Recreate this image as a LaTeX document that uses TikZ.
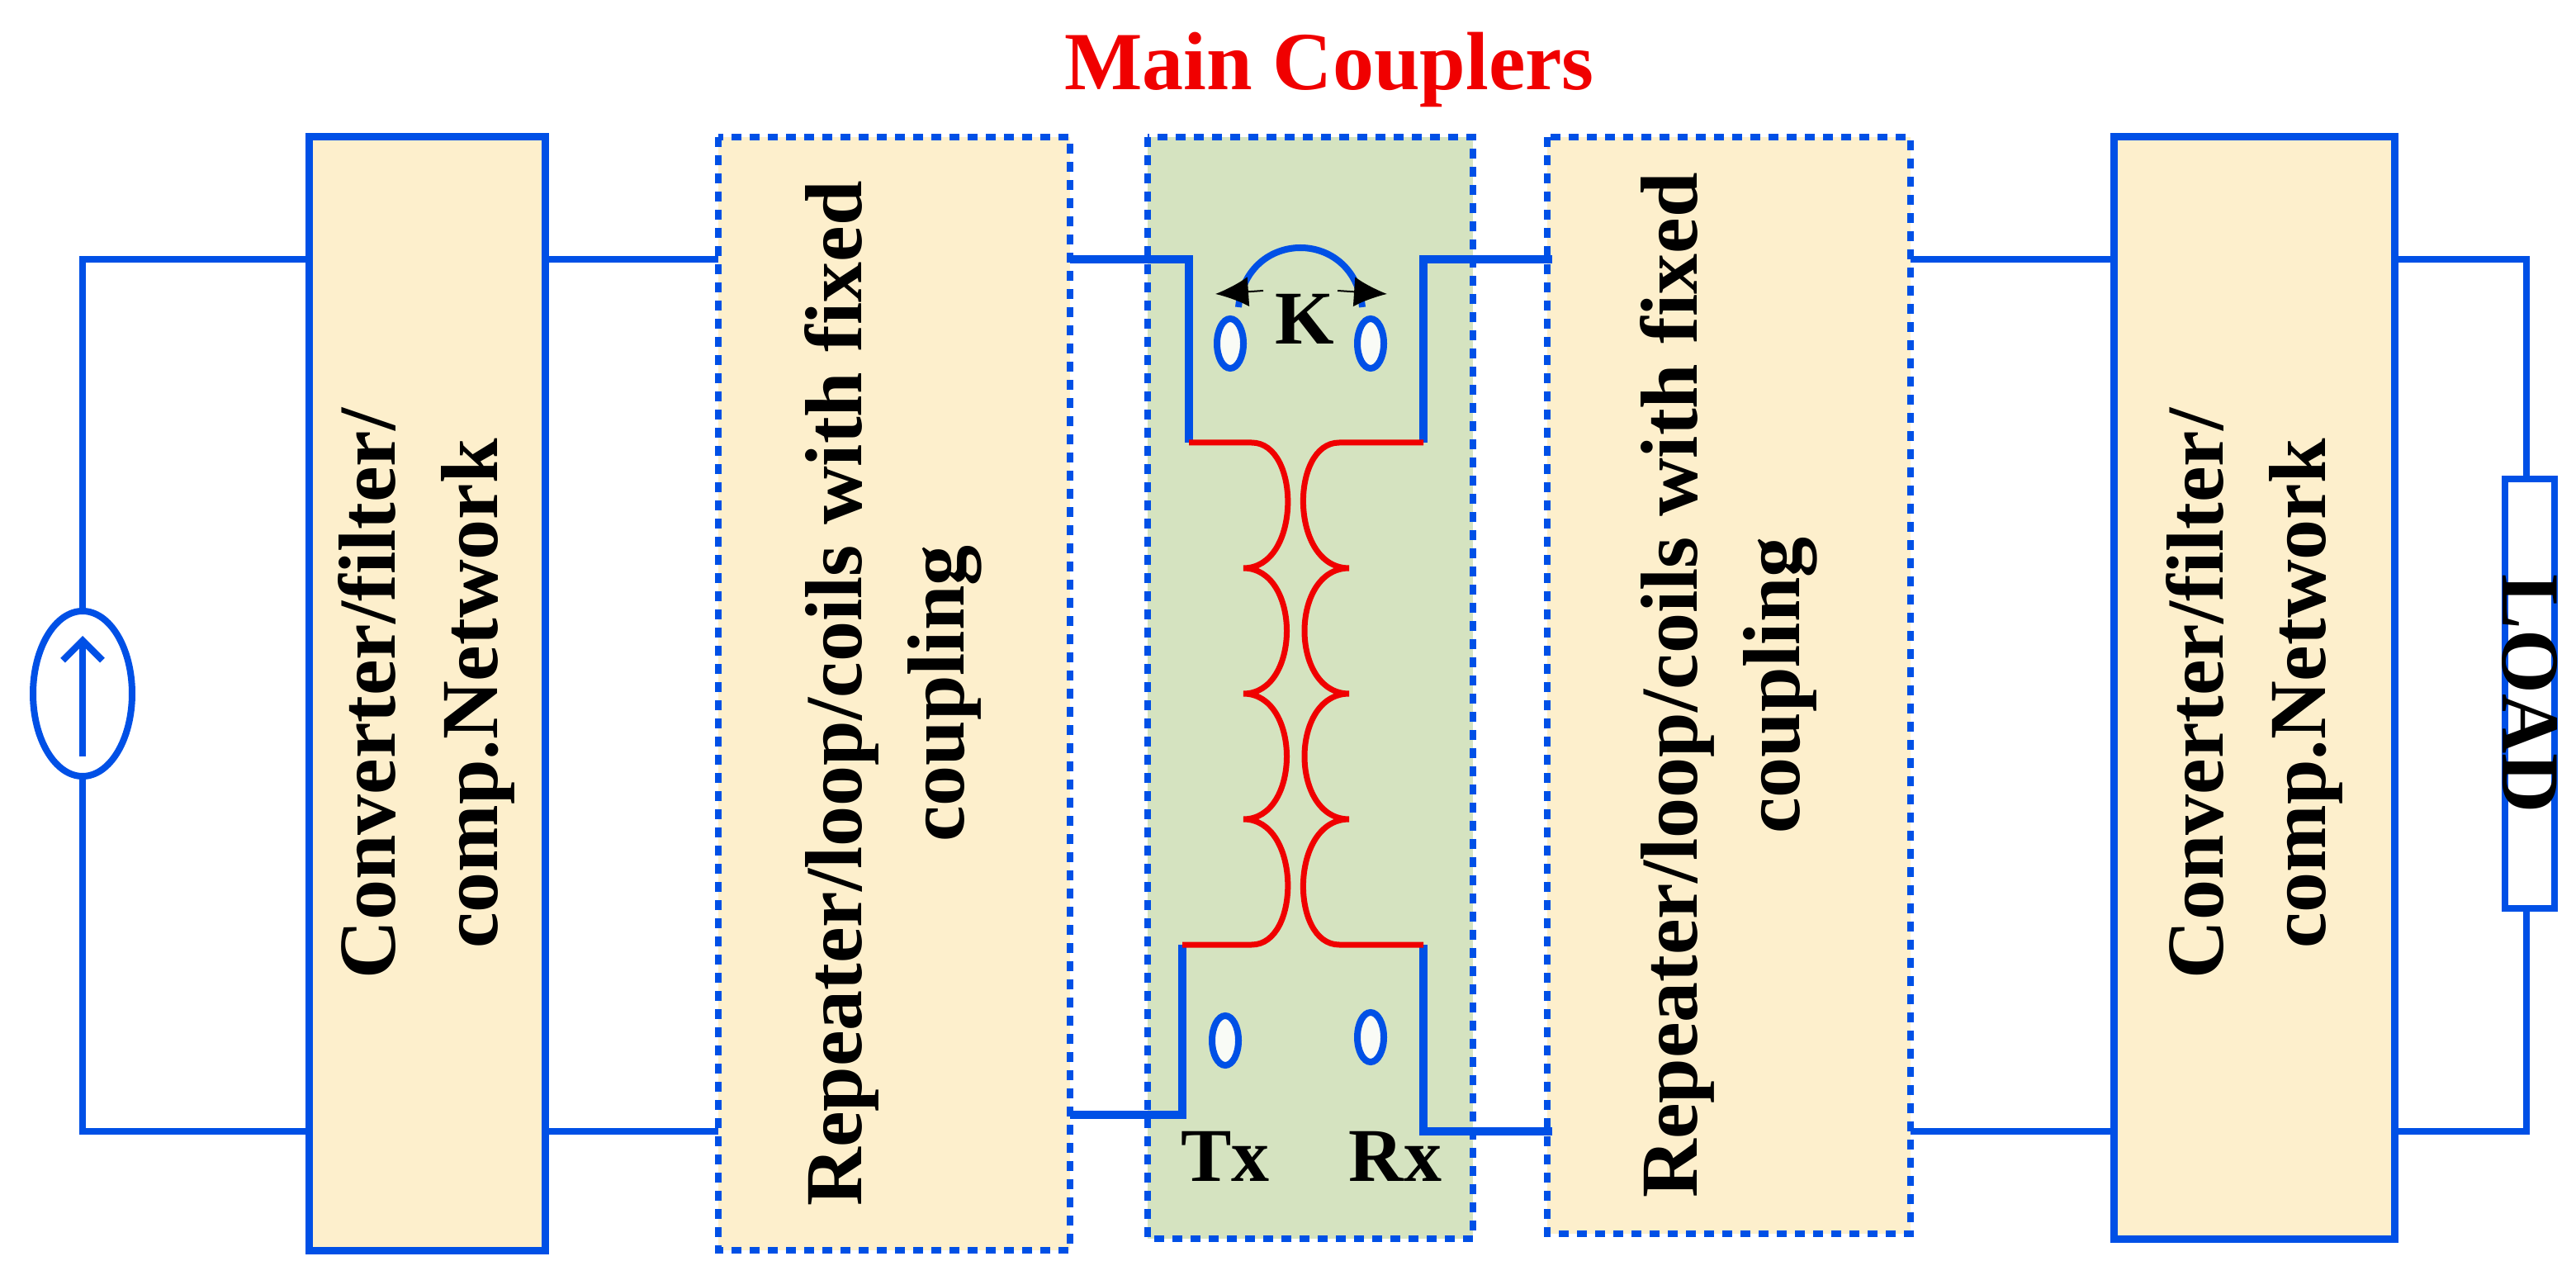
\documentclass[tikz,border=0pt]{standalone}
\usepackage{fontspec}
\setmainfont{Liberation Serif}
\usetikzlibrary{arrows.meta,shapes.geometric}
\definecolor{wb}{RGB}{0,80,230}
\definecolor{cream}{RGB}{253,239,204}
\definecolor{leaf}{RGB}{213,227,192}
\definecolor{rd}{RGB}{240,0,0}
\begin{document}
\begin{tikzpicture}[x=1pt,y=-1pt,
  wire/.style={wb,line width=4pt},
  solidbox/.style={draw=wb,line width=4.5pt,fill=cream},
  dotbox/.style={draw=wb,line width=4pt,dash pattern=on 6pt off 5pt,fill=cream},
  boxtext/.style={rotate=90,align=center,font=\fontsize{49}{62}\selectfont\bfseries},
  lbl/.style={font=\fontsize{46}{50}\selectfont\bfseries},
  coil/.style={rd,line width=3.5pt},
  port/.style={draw=wb,line width=4pt,fill=white!85!leaf,minimum width=16pt,minimum height=30pt,ellipse,inner sep=0pt}]
\useasboundingbox (0,0) rectangle (1560,775);
% boxes
\draw[solidbox] (187,83) rectangle (330,757);
\node[boxtext] (b1) at (258,420) {Converter/filter/\\comp.Network};
\draw[dotbox] (435,83) rectangle (648,757);
\node[boxtext] (b2) at (541,420) {Repeater/loop/coils with fixed\\coupling};
\draw[dotbox,fill=leaf] (695,83) rectangle (892,750);
\draw[dotbox] (937,83) rectangle (1157,747);
\node[boxtext] (b4) at (1047,415) {Repeater/loop/coils with fixed\\coupling};
\draw[solidbox] (1280,83) rectangle (1450,750);
\node[boxtext] (b5) at (1365,420) {Converter/filter/\\comp.Network};
\node[lbl,rd,font=\fontsize{50}{54}\selectfont\bfseries] (title) at (805,42) {Main Couplers};
% source
\draw[wire] (187,157) -- (50,157) -- (50,685) -- (187,685);
\node[draw=wb,line width=4pt,fill=white,ellipse,minimum width=60pt,minimum height=100pt] (src) at (50,420) {};
\draw[wb,line width=4pt,-{Straight Barb[length=12pt,width=24pt]}] (50,458) -- (50,385);
% links
\draw[wire] (330,157) -- (435,157);
\draw[wire] (330,685) -- (435,685);
\draw[wire] (1157,157) -- (1280,157);
\draw[wire] (1157,685) -- (1280,685);
% load
\draw[wire] (1450,157) -- (1530,157) -- (1530,685) -- (1450,685);
\node[draw=wb,line width=4pt,fill=white,minimum width=30pt,minimum height=260pt,inner sep=0pt] (load) at (1532,420) {};
\node[rotate=-90,lbl,font=\fontsize{50}{54}\selectfont\bfseries] at (load) {LOAD};
% coupler wiring
\draw[wire,line width=5pt] (648,157) -- (720,157) -- (720,268);
\draw[wire,line width=5pt] (940,157) -- (862,157) -- (862,268);
\draw[wire,line width=5pt] (648,675) -- (716,675) -- (716,572);
\draw[wire,line width=5pt] (940,685) -- (862,685) -- (862,572);
% coils
\draw[coil] (720,268) -- (758,268)
  .. controls (788,268) and (788,344) .. (753,344)
  .. controls (788,344) and (788,420) .. (753,420)
  .. controls (788,420) and (788,496) .. (753,496)
  .. controls (788,496) and (788,572) .. (758,572) -- (716,572);
\draw[coil] (862,268) -- (811,268)
  .. controls (781,268) and (781,344) .. (817,344)
  .. controls (781,344) and (781,420) .. (817,420)
  .. controls (781,420) and (781,496) .. (817,496)
  .. controls (781,496) and (781,572) .. (811,572) -- (862,572);
% ports
\node[port] (p1) at (745,208) {};
\node[port] (p2) at (830,208) {};
\node[port] (p3) at (742,630) {};
\node[port] (p4) at (830,628) {};
\draw[wb,line width=4pt] (750,186) .. controls (755,138) and (820,138) .. (825,186);
\draw[black,line width=1pt,-{Latex[length=20pt,width=18pt]}] (765,176) -- (736,178);
\draw[black,line width=1pt,-{Latex[length=20pt,width=18pt]}] (810,176) -- (840,178);
\node[lbl] (K) at (790,193) {K};
\node[lbl] (tx) at (742,700) {Tx};
\node[lbl] (rx) at (845,700) {Rx};
\end{tikzpicture}
\end{document}
